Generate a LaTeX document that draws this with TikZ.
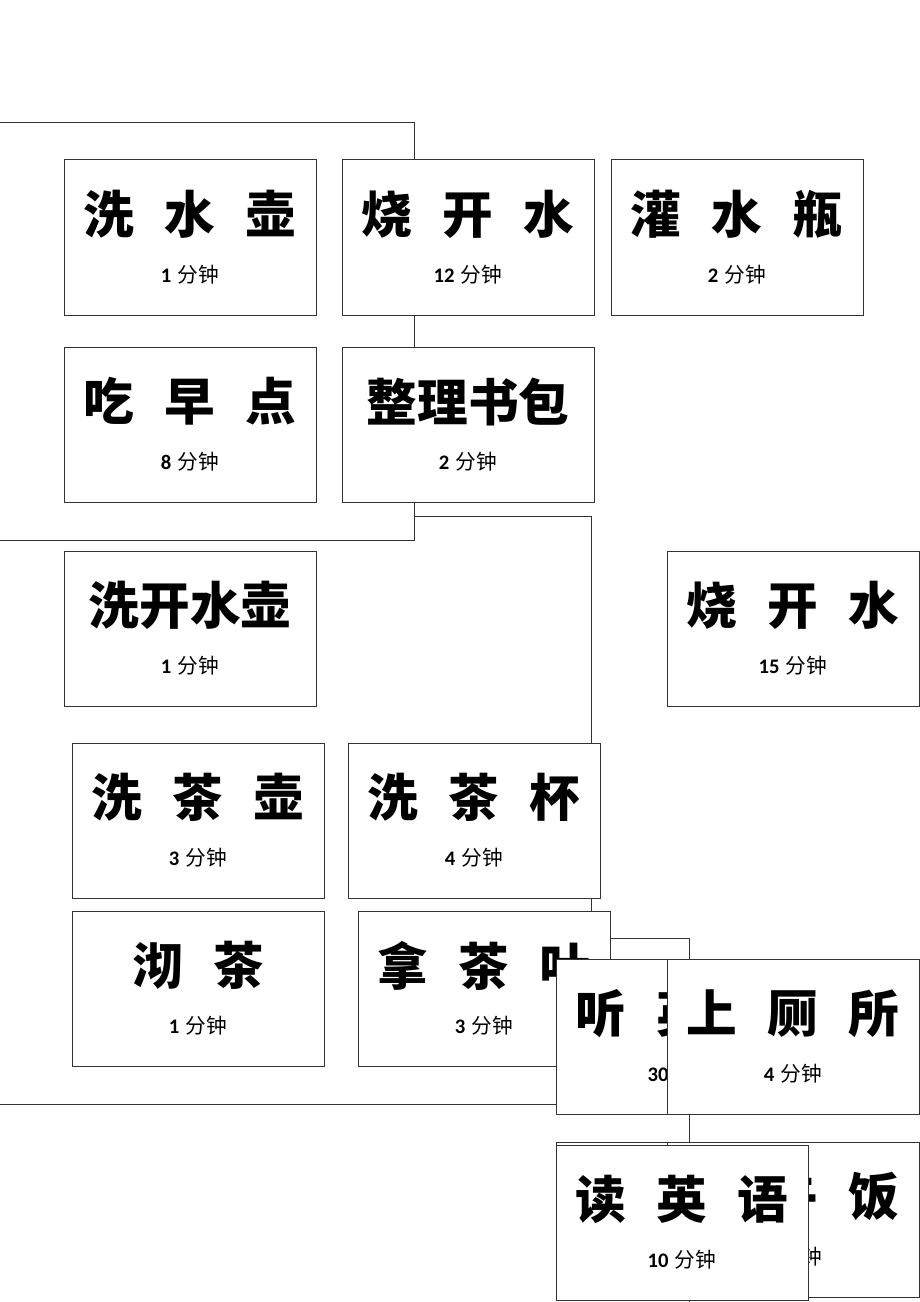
\documentclass[tikz,border=0pt]{standalone}
\usepackage{fontspec}
\newfontfamily\kai{Noto Sans CJK SC}
\newfontfamily\cjksans{Noto Sans CJK SC}
\newfontfamily\numfont{Carlito}

\tikzstyle{frame}   = [draw=black!80, fill=white, line width=0.6pt]
\tikzstyle{task}    = [draw=black!80, fill=white, line width=0.75pt, anchor=north west, inner sep=0pt, outer sep=0pt, minimum width=189pt, minimum height=116.25pt]
\tikzstyle{title}   = [inner sep=0pt, font={\kai\bfseries\fontsize{38}{38}\selectfont\spaceskip=0.6em\relax}]
\tikzstyle{mins}    = [inner sep=0pt, font=\fontsize{15.5}{15.5}\selectfont]
\newcommand{\minutes}[1]{{\numfont\bfseries #1} {\cjksans 分钟}}

\begin{document}
\begin{tikzpicture}[x=0.75pt, y=-0.75pt]
     \useasboundingbox (0,0) rectangle (920,1302);
     % grouping frames, back to front
     \draw[frame] (-10, 938) rectangle (689, 1330);
     \draw[frame] (-10, 516) rectangle (591, 1104);
     \draw[frame] (-10, 122) rectangle (414, 540);
     % first group
     \node[task] (washpot)    at ( 64, 160) {};
     \node[task] (boilA)      at (342, 160) {};
     \node[task] (fillflask)  at (611, 160) {};
     \node[task] (breakfast)  at ( 64, 347) {};
     \node[task] (packbag)    at (342, 347) {};
     \node[title] at ([yshift=-41pt]washpot.north)   {洗 水 壶};
     \node[mins]  at ([yshift=-86pt]washpot.north)   {\minutes{1}};
     \node[title] at ([yshift=-41pt]boilA.north)     {烧 开 水};
     \node[mins]  at ([yshift=-86pt]boilA.north)     {\minutes{12}};
     \node[title] at ([yshift=-41pt]fillflask.north) {灌 水 瓶};
     \node[mins]  at ([yshift=-86pt]fillflask.north) {\minutes{2}};
     \node[title] at ([yshift=-41pt]breakfast.north) {吃 早 点};
     \node[mins]  at ([yshift=-86pt]breakfast.north) {\minutes{8}};
     \node[title] at ([yshift=-41pt]packbag.north)   {整理书包};
     \node[mins]  at ([yshift=-86pt]packbag.north)   {\minutes{2}};
     % second group
     \node[task] (washkettle) at ( 64, 551) {};
     \node[task] (boilB)      at (667, 551) {};
     \node[task] (washteapot) at ( 72, 743) {};
     \node[task] (washcups)   at (348, 743) {};
     \node[task] (brew)       at ( 72, 911) {};
     \node[task] (tealeaves)  at (358, 911) {};
     \node[title] at ([yshift=-41pt]washkettle.north) {洗开水壶};
     \node[mins]  at ([yshift=-86pt]washkettle.north) {\minutes{1}};
     \node[title] at ([yshift=-41pt]boilB.north)      {烧 开 水};
     \node[mins]  at ([yshift=-86pt]boilB.north)      {\minutes{15}};
     \node[title] at ([yshift=-41pt]washteapot.north) {洗 茶 壶};
     \node[mins]  at ([yshift=-86pt]washteapot.north) {\minutes{3}};
     \node[title] at ([yshift=-41pt]washcups.north)   {洗 茶 杯};
     \node[mins]  at ([yshift=-86pt]washcups.north)   {\minutes{4}};
     \node[title] at ([yshift=-41pt]brew.north)       {沏 茶};
     \node[mins]  at ([yshift=-86pt]brew.north)       {\minutes{1}};
     \node[title] at ([yshift=-41pt]tealeaves.north)  {拿 茶 叶};
     \node[mins]  at ([yshift=-86pt]tealeaves.north)  {\minutes{3}};
     % third group, overlapping
     \node[task] (listen) at (556, 959) {};
     \node[title] at ([yshift=-41pt]listen.north) {听 英 语};
     \node[mins]  at ([yshift=-86pt]listen.north) {\minutes{30}};
     \node[task] (toilet) at (667, 959) {};
     \node[title] at ([yshift=-41pt]toilet.north) {上 厕 所};
     \node[mins]  at ([yshift=-86pt]toilet.north) {\minutes{4}};
     \node[task] (blank)  at (556, 1142) {};
     \node[task] (meal)   at (667, 1142) {};
     \node[title] at ([yshift=-41pt]meal.north) {吃 午 饭};
     \node[mins]  at ([yshift=-86pt]meal.north) {\minutes{5}};
     \node[task] (read)   at (556, 1145) {};
     \node[title] at ([yshift=-41pt]read.north) {读 英 语};
     \node[mins]  at ([yshift=-86pt]read.north) {\minutes{10}};
\end{tikzpicture}
\end{document}
